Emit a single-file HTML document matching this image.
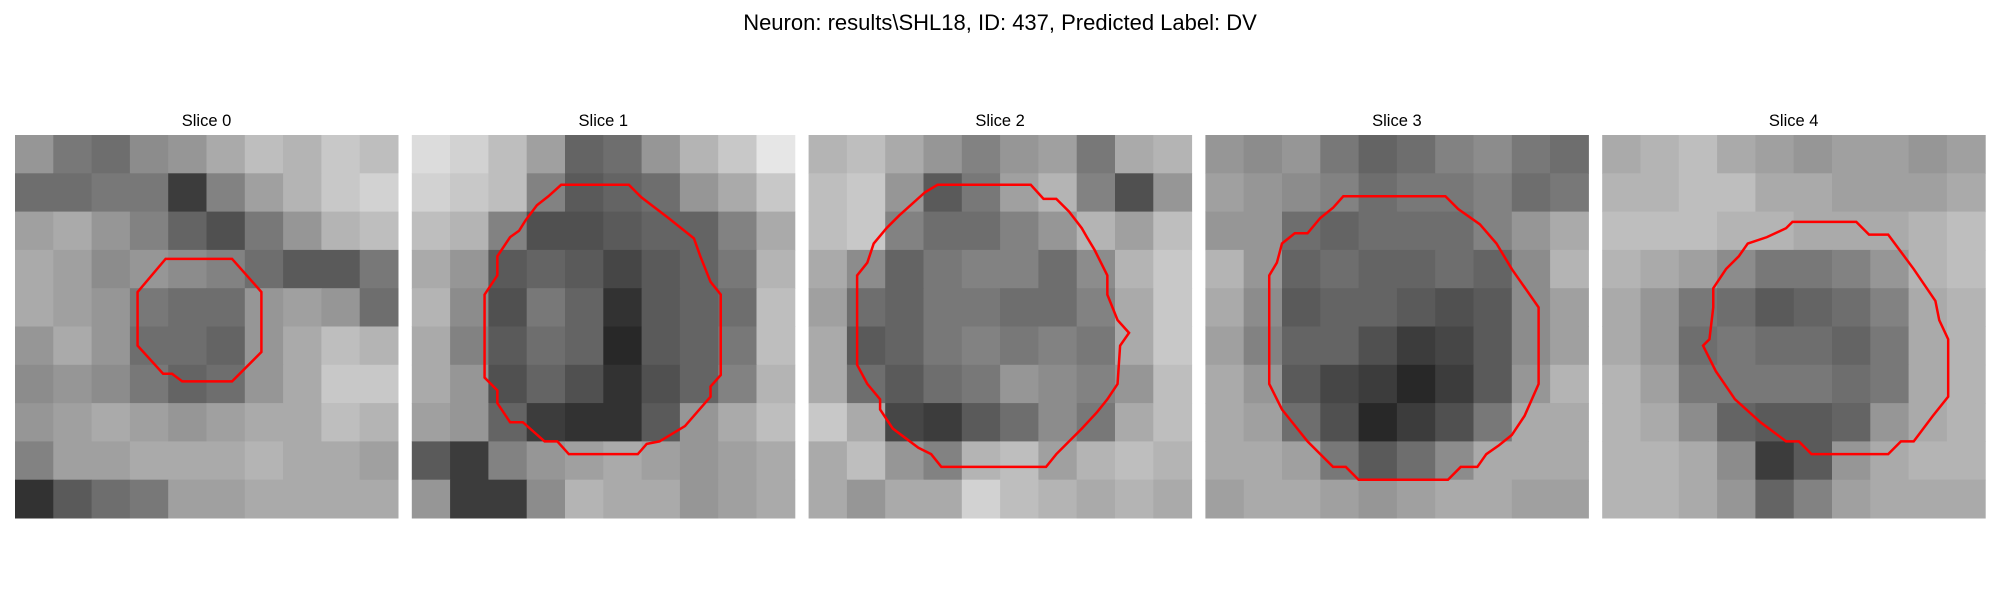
<!DOCTYPE html>
<html><head><meta charset="utf-8"><style>
html,body{margin:0;padding:0;background:#fff;}
svg{display:block;font-family:"Liberation Sans","DejaVu Sans",sans-serif;}
</style></head><body>
<svg id="fig" width="2000" height="600" viewBox="0 0 2000 600">
<text x="1000" y="30" text-anchor="middle" font-size="22" fill="#000">Neuron: results\SHL18, ID: 437, Predicted Label: DV</text>
</svg>
<script>
const panelTitles = ["Slice 0","Slice 1","Slice 2","Slice 3","Slice 4"];
const gridSize = 30;
const slice0 = [
[150,120,110,140,150,170,190,180,200,190],
[110,110,120,120,60,130,160,180,200,210],
[160,170,150,130,100,80,120,150,180,190],
[170,160,140,150,140,130,110,90,90,120],
[170,160,150,120,110,110,150,160,150,110],
[150,170,150,110,110,100,150,170,190,180],
[140,150,140,120,100,110,150,170,200,200],
[150,160,170,160,150,160,170,170,190,180],
[130,160,160,170,170,170,180,170,170,160],
[50,90,110,120,160,160,170,170,170,170]];
const slice1 = [
[220,210,190,160,100,110,150,180,200,230],
[210,200,190,130,90,100,110,150,170,200],
[190,180,130,80,80,90,100,100,130,170],
[170,150,90,100,90,70,90,100,120,180],
[180,140,80,120,100,50,90,100,110,190],
[170,130,90,110,100,40,90,100,120,190],
[170,150,80,100,80,50,80,100,130,180],
[160,150,100,60,50,50,90,150,170,190],
[90,60,130,150,160,170,160,150,160,170],
[150,60,60,140,180,170,170,150,160,170]];
const slice2 = [
[180,190,170,150,130,150,160,120,170,180],
[190,200,150,90,120,160,180,130,80,150],
[190,200,130,110,110,130,150,180,160,190],
[170,140,100,120,130,130,110,140,180,200],
[160,110,100,120,120,110,110,130,170,200],
[170,90,100,120,130,120,130,120,170,200],
[170,110,90,110,120,150,140,130,150,190],
[200,170,70,60,90,110,140,120,170,190],
[170,190,150,130,180,190,160,180,190,180],
[170,150,170,170,210,190,180,170,180,170]];
const slice3 = [
[150,140,150,120,100,110,130,140,120,110],
[160,150,140,130,110,120,120,130,110,120],
[150,150,110,100,110,110,110,130,150,170],
[180,150,100,110,100,100,110,100,140,180],
[170,140,90,100,100,90,80,90,140,160],
[160,130,100,100,80,60,70,90,140,160],
[170,150,90,70,60,40,60,90,150,180],
[170,160,110,80,40,60,80,120,170,170],
[170,170,160,120,90,110,140,170,170,170],
[160,170,170,160,150,160,170,170,160,160]];
const slice4 = [
[170,180,190,170,160,150,160,160,150,160],
[180,180,190,190,170,170,160,160,160,170],
[190,190,190,180,180,170,170,170,180,190],
[180,170,160,140,120,120,130,150,180,190],
[170,150,120,110,90,100,110,130,170,180],
[170,150,110,120,110,110,100,120,170,180],
[180,160,120,120,120,120,110,120,170,180],
[180,170,140,100,90,90,100,150,170,180],
[180,180,170,140,60,90,150,170,180,180],
[180,180,170,150,100,130,160,170,170,170]];
const contour0 = [[11.8,9.7],[17,9.7],[19.3,12.3],[19.3,17],[17,19.3],[13.1,19.3],[12.3,18.7],[11.6,18.7],[9.6,16.5],[9.6,12.3]];
const contour1 = [[11.7,3.9],[17.0,3.9],[18.0,4.9],[20.1,6.5],[22.1,8.1],[22.6,9.5],[23.4,11.5],[24.2,12.5],[24.2,18.8],[23.4,19.7],[23.4,20.5],[21.4,22.8],[19.4,24.0],[18.4,24.2],[17.7,25.0],[12.3,25.0],[11.4,24.0],[10.4,24.0],[8.7,22.5],[7.7,22.5],[6.7,21.0],[6.7,20.0],[5.7,19.0],[5.7,12.5],[6.7,11.0],[6.7,9.5],[7.7,8.0],[8.4,7.5],[8.9,6.7],[9.8,5.5],[10.7,4.8]];
const contour2 = [[10.1,3.9],[17.4,3.9],[18.4,5.0],[19.4,5.0],[20.4,6.0],[21.4,7.3],[21.8,8.0],[22.4,9.0],[23.4,11.0],[23.4,12.5],[24.2,14.5],[25.1,15.5],[24.4,16.5],[24.2,19.5],[23.4,20.7],[22.6,21.7],[21.4,23.0],[20.4,24.0],[19.4,25.0],[18.6,26.0],[10.4,26.0],[9.6,25.0],[8.6,24.5],[6.6,23.0],[5.6,21.5],[5.6,20.7],[4.6,19.5],[3.8,18.0],[3.8,11.0],[4.6,10.0],[5.1,8.5],[6.1,7.3],[7.1,6.3],[9.1,4.5]];
const contour3 = [[10.8,4.8],[18.8,4.8],[19.8,5.8],[21.5,7.0],[22.8,8.5],[24.0,10.5],[26.1,13.5],[26.1,19.5],[25.0,22.0],[24.0,23.5],[23.0,24.3],[22.0,25.0],[21.3,26.0],[20.0,26.0],[19.0,27.0],[12.0,27.0],[11.0,26.0],[10.0,26.0],[8.0,24.0],[6.0,21.5],[5.0,19.5],[5.0,11.0],[5.6,10.0],[6.0,8.5],[7.0,7.7],[8.0,7.7],[9.0,6.5],[10.0,5.7]];
const contour4 = [[14.9,6.8],[19.9,6.8],[20.9,7.8],[22.4,7.8],[24.4,10.5],[26.1,13.0],[26.4,14.5],[27.1,16.0],[27.1,20.5],[25.9,22.0],[24.4,24.0],[23.4,24.0],[22.4,25.0],[16.4,25.0],[15.4,24.0],[14.4,24.0],[12.4,22.5],[10.4,20.7],[8.9,18.5],[8.4,17.5],[7.9,16.5],[8.4,16.0],[8.7,13.5],[8.7,12.0],[9.7,10.5],[10.7,9.5],[11.4,8.5],[12.9,8.0],[14.4,7.3]];

const grids = [slice0,slice1,slice2,slice3,slice4];
const contours = [contour0,contour1,contour2,contour3,contour4];
const NS = "http://www.w3.org/2000/svg";
const svg = document.getElementById('fig');
const PW = 383, PY = 135, X0 = 15, PITCH = 396.8;
grids.forEach((grid, p) => {
  const px = X0 + p * PITCH;
  const g = document.createElementNS(NS, 'g');
  
  
  svg.appendChild(g);
  const sx = v => px + v / gridSize * PW;
  const sy = v => PY + v / gridSize * PW;
  const t = document.createElementNS(NS, 'text');
  t.setAttribute('x', px + PW / 2); t.setAttribute('y', 126);
  t.setAttribute('text-anchor', 'middle'); t.setAttribute('font-size', '16.5');
  t.textContent = panelTitles[p];
  
  
  g.appendChild(t);
  const n = grid.length, cs = gridSize / n;
  grid.forEach((row, r) => row.forEach((v, c) => {
    const rc = document.createElementNS(NS, 'rect');
    rc.setAttribute('x', sx(c * cs)); rc.setAttribute('y', sy(r * cs));
    rc.setAttribute('width', PW / n + 0.5); rc.setAttribute('height', PW / n + 0.5);
    rc.setAttribute('fill', `rgb(${v},${v},${v})`);
    
    
    g.appendChild(rc);
  }));
  const pl = document.createElementNS(NS, 'polygon');
  pl.setAttribute('points', contours[p].map(q => sx(q[0]) + ',' + sy(q[1])).join(' '));
  pl.setAttribute('fill', 'none'); pl.setAttribute('stroke', '#ff0000'); pl.setAttribute('stroke-width', '2.5');
  
  
  g.appendChild(pl);
});
</script>
</body></html>
